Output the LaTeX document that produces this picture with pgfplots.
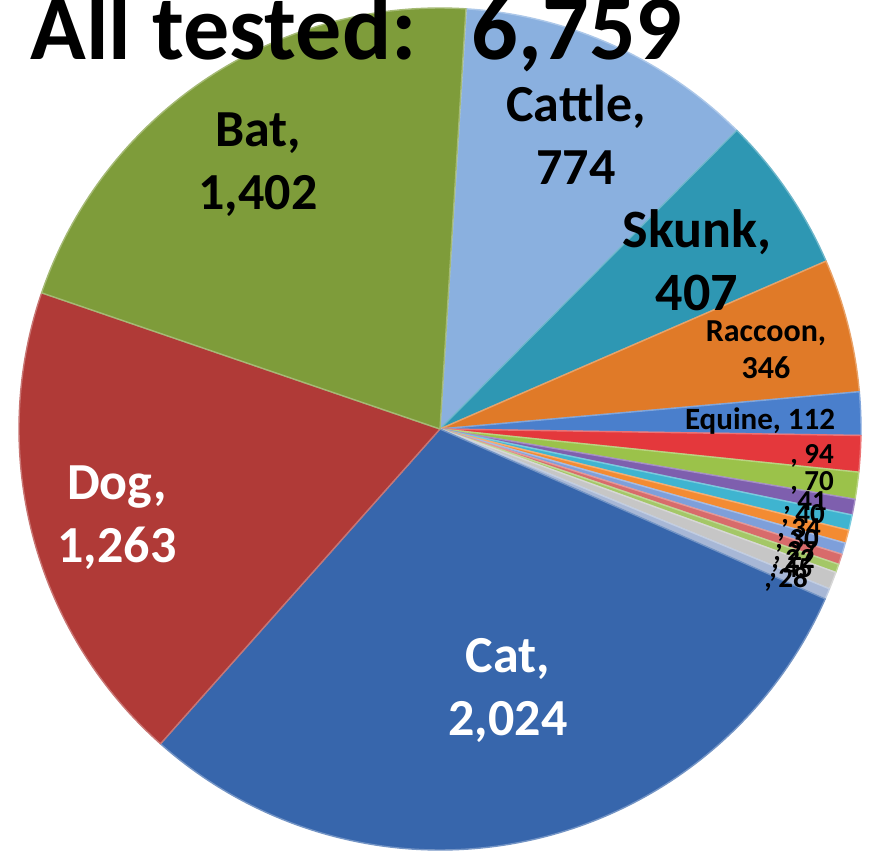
\documentclass[border=0pt]{standalone}
\usepackage{pgfplots}
\usepackage{pgfplotstable}
\pgfplotsset{compat=1.18}
\usepackage{fontspec}
\setmainfont{Carlito}

\definecolor{cCattle}{HTML}{8AB0DF}
\definecolor{cSkunk}{HTML}{2E97B3}
\definecolor{cRaccoon}{HTML}{E07A28}
\definecolor{cEquine}{HTML}{4A7FCC}
\definecolor{cA}{HTML}{E4383C}
\definecolor{cB}{HTML}{9BC24A}
\definecolor{cC}{HTML}{7E5FAE}
\definecolor{cD}{HTML}{3FB4D0}
\definecolor{cE}{HTML}{F38B32}
\definecolor{cF}{HTML}{7E9FDA}
\definecolor{cG}{HTML}{D86B6B}
\definecolor{cH}{HTML}{A4C767}
\definecolor{cI}{HTML}{C6C6C6}
\definecolor{cJ}{HTML}{A7B7D6}
\definecolor{cCat}{HTML}{3766AC}
\definecolor{cDog}{HTML}{B03A37}
\definecolor{cBat}{HTML}{7E9C3A}

% slices in drawing order (clockwise from the top)
\pgfplotstableread{
value col
774  cCattle
407  cSkunk
346  cRaccoon
112  cEquine
94   cA
70   cB
41   cC
40   cD
34   cE
30   cF
27   cG
22   cH
45   cI
28   cJ
2024 cCat
1263 cDog
1402 cBat
}\pietable

\begin{document}
\begin{tikzpicture}
\useasboundingbox (0,0) rectangle (437pt,425.5pt);
\begin{axis}[
  at={(0,0)}, anchor=south west,
  scale only axis, width=437pt, height=425.5pt,
  xmin=0, xmax=874, ymin=0, ymax=851, y dir=reverse,
  hide axis, clip=false,
]
\pgfplotsextra{
  \pgfplotstablegetrowsof{\pietable}
  \pgfmathtruncatemacro{\nrows}{\pgfplotsretval-1}
  \xdef\pietotal{0}
  \foreach \i in {0,...,\nrows}{
    \pgfplotstablegetelem{\i}{value}\of{\pietable}
    \pgfmathsetmacro{\tmp}{\pietotal+\pgfplotsretval}
    \xdef\pietotal{\tmp}
  }
  \xdef\angA{86.4}
  \def\R{210.5pt}
  \foreach \i in {0,...,\nrows}{
    \pgfplotstablegetelem{\i}{value}\of{\pietable}\let\vv\pgfplotsretval
    \pgfplotstablegetelem{\i}{col}\of{\pietable}\let\cc\pgfplotsretval
    \pgfmathsetmacro{\angB}{\angA-\vv/\pietotal*360}
    \fill[\cc, draw=\cc!70!white, line width=0.7pt, line join=round]
      (axis cs:440,429) -- ++(\angA:\R) arc[start angle=\angA, end angle=\angB, radius=\R] -- cycle;
    \xdef\angA{\angB}
  }
}
\node[anchor=base west, inner sep=0pt, font=\fontsize{46}{50}\selectfont\bfseries] at (axis cs:30,59) {All tested:\hspace{0.6em}6,759};

\node[align=center, font=\fontsize{26}{31.5}\selectfont\bfseries] at (axis cs:258,165) {Bat,\\1,402};
\node[align=center, font=\fontsize{26}{31.5}\selectfont\bfseries] at (axis cs:576,135) {Cattle,\\774};
\node[align=center, font=\fontsize{27}{31.5}\selectfont\bfseries] at (axis cs:697,260) {Skunk,\\407};
\node[align=center, font=\fontsize{16}{18.5}\selectfont\bfseries] at (axis cs:766,350) {Raccoon,\\346};
\node[font=\fontsize{15.5}{18}\selectfont\bfseries] at (axis cs:760,421) {Equine, 112};
\node[align=center, text=white, font=\fontsize{26}{31.5}\selectfont\bfseries] at (axis cs:117,518) {Dog,\\1,263};
\node[align=center, text=white, font=\fontsize{26}{31.5}\selectfont\bfseries] at (axis cs:508,690) {Cat,\\2,024};

\begin{scope}[every node/.style={inner sep=0pt, font=\fontsize{14.5}{15}\selectfont\bfseries}]
\node at (axis cs:812,456) {, 94};
\node at (axis cs:812,483) {, 70};
\node at (axis cs:805,503) {, 41};
\node at (axis cs:803,516) {, 40};
\node at (axis cs:799,530) {, 34};
\node at (axis cs:797,541) {, 30};
\node at (axis cs:795,553) {, 27};
\node at (axis cs:793,561) {, 22};
\node at (axis cs:791,570) {, 45};
\node at (axis cs:786,579) {, 28};
\end{scope}
\end{axis}
\end{tikzpicture}
\end{document}
